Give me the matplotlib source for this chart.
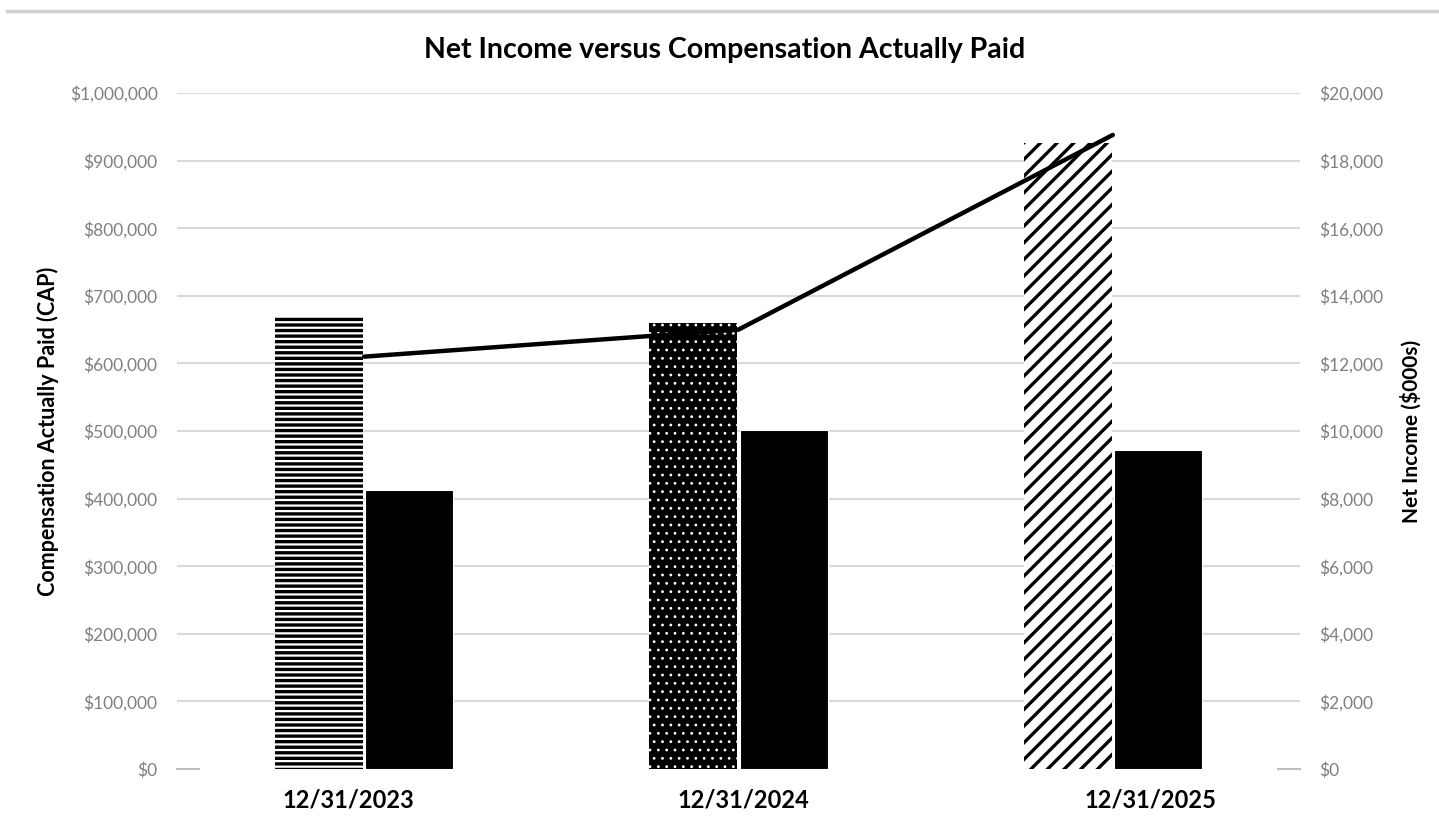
import numpy as np
import matplotlib
matplotlib.use('Agg')
import matplotlib.pyplot as plt
from matplotlib.lines import Line2D
from matplotlib.ticker import FuncFormatter
from matplotlib.transforms import ScaledTranslation

# data
years = ['12/31/2023', '12/31/2024', '12/31/2025']
cap_values = [668000, 660000, 926000]          # left axis, $
net_income = [8250, 10030, 9440]              # right axis, $000s
line_values = [610000, 650000, 938000]         # left axis, $
cap_hatches = ['---', '..', '//']

plt.rcParams['font.family'] = ['Lato', 'DejaVu Sans']
plt.rcParams['hatch.linewidth'] = 2.4

fig = plt.figure(figsize=(14.39, 8.18), dpi=100)
ax = fig.add_axes([0.123, 0.0599, 0.7804, 0.8264])
ax2 = ax.twinx()
ax.set_zorder(ax2.get_zorder() + 1)
ax.patch.set_visible(False)

x = np.arange(len(years))
width = 0.235
off = width / 2 + 0.003

# horizontal grid on the right axis so it sits under the bars
for v in np.arange(2000, 20001, 2000):
    ax2.axhline(v, color='#d9d9d9', linewidth=1.5, zorder=0)

ax2.bar(x + off, net_income, width, color='black', edgecolor='white', linewidth=0.8, zorder=2)

for i in range(len(years)):
    if cap_hatches[i] == '..':
        b = ax.bar(x[i] - off, cap_values[i], width, color='black', edgecolor='white',
                   linewidth=0, hatch=cap_hatches[i], zorder=2)
        for p in b:
            if hasattr(p, 'set_hatch_linewidth'):
                p.set_hatch_linewidth(0.8)
    else:
        ax.bar(x[i] - off, cap_values[i], width, color='white', edgecolor='black',
               linewidth=0, hatch=cap_hatches[i], zorder=2)

ax.plot(x, line_values, color='black', linewidth=3.2, solid_capstyle='round', zorder=5)

ax.set_xlim(-0.5, 2.5)
ax.set_ylim(0, 1000000)
ax2.set_ylim(0, 20000)
ax.set_yticks(np.arange(0, 1000001, 100000))
ax2.set_yticks(np.arange(0, 20001, 2000))
ax.yaxis.set_major_formatter(FuncFormatter(lambda v, p: f'${v:,.0f}'))
ax2.yaxis.set_major_formatter(FuncFormatter(lambda v, p: f'${v:,.0f}'))

ax.set_xticks(x)
ax.set_xticklabels(years, fontsize=17, fontweight='bold', color='black')
ax.tick_params(axis='x', length=0, pad=14)
ax.tick_params(axis='y', length=0, pad=14, labelsize=12.5, labelcolor='#808080')
ax2.tick_params(axis='y', length=0, pad=14, labelsize=12.5, labelcolor='#808080')

# the date labels in the reference are not centred on their categories
for lab, dx in zip(ax.get_xticklabels(), [-16, 5, 38]):
    lab.set_transform(lab.get_transform() + ScaledTranslation(dx / 100, 0, fig.dpi_scale_trans))

for a in (ax, ax2):
    for s in a.spines.values():
        s.set_visible(False)

# small stubs of the category axis at both ends
ax.plot([-0.5, -0.44], [0, 0], color='#bfbfbf', linewidth=1.5, clip_on=False, zorder=1)
ax.plot([2.44, 2.5], [0, 0], color='#bfbfbf', linewidth=1.5, clip_on=False, zorder=1)

ax.set_ylabel('Compensation Actually Paid (CAP)', fontsize=15.5, fontweight='bold', labelpad=8)
ax2.set_ylabel('Net Income ($000s)', fontsize=15, fontweight='bold', labelpad=12)

fig.text(725 / 1439, 1 - 50 / 818, 'Net Income versus Compensation Actually Paid',
         ha='center', va='center', fontsize=20.5, fontweight='bold')

fig.add_artist(Line2D([0.005, 1.0], [1 - 11 / 818, 1 - 11 / 818], color='#d0d0d0', linewidth=2.5))

fig.savefig('out.png', dpi=100)
